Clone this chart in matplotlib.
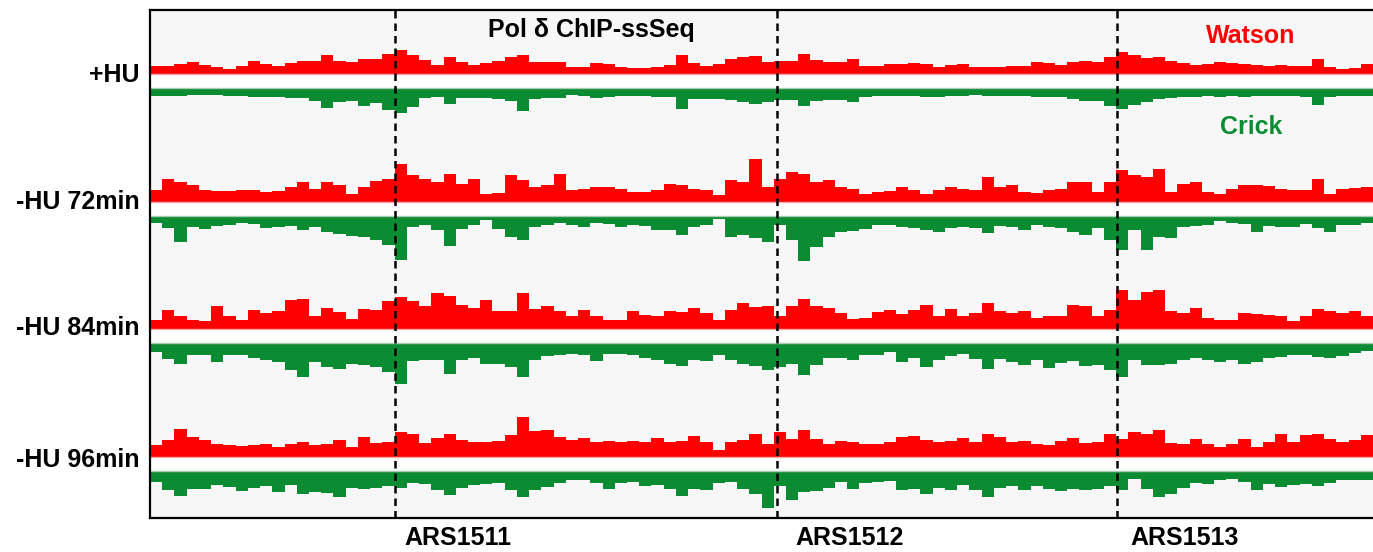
import numpy as np
import matplotlib.pyplot as plt

plt.rcParams['font.family'] = ['Liberation Sans', 'DejaVu Sans']

# track names and replication origins
tracks = ["+HU", "-HU 72min", "-HU 84min", "-HU 96min"]
ars_names = ["ARS1511", "ARS1512", "ARS1513"]
ars_pos = [20.0, 51.3, 79.1]   # in bin units

# Pol delta ChIP-ssSeq signal, 100 bins, Watson (up) and Crick (down)
hu_w = [8, 8, 10, 12, 9, 7, 5, 8, 13, 10, 8, 11, 13, 13, 19, 13, 12, 15, 15, 20,
        24, 19, 14, 9, 17, 12, 9, 11, 13, 17, 19, 12, 12, 12,
        7, 7, 11, 10, 7, 6, 6, 7, 9, 19, 11, 8, 10, 15, 17, 18, 12, 13, 13, 20,
        14, 12, 12, 15, 8, 8, 10, 10, 11, 10, 7, 9, 10,
        7, 7, 7, 8, 8, 12, 11, 9, 12, 13, 12, 17, 22, 19, 16, 17, 13, 11, 9, 10,
        12, 11, 10, 9, 8, 9, 8, 8, 15, 7, 5, 6, 10]
hu_c = [8, 8, 8, 7, 7, 7, 8, 8, 9, 9, 9, 10, 10, 13, 20, 14, 13, 18, 15, 22,
        25, 19, 10, 9, 16, 10, 10, 10, 11, 13, 23, 11, 10, 10,
        7, 8, 10, 9, 8, 8, 8, 9, 9, 21, 11, 11, 11, 12, 14, 16, 14, 12, 12, 18,
        13, 12, 12, 14, 9, 8, 8, 8, 8, 9, 9, 8, 8,
        7, 8, 8, 8, 8, 9, 9, 9, 11, 13, 13, 18, 21, 17, 14, 11, 10, 9, 9, 8,
        9, 8, 9, 8, 8, 8, 8, 9, 17, 9, 8, 8, 8]
h72_w = [12, 23, 20, 17, 12, 11, 11, 12, 12, 10, 11, 15, 20, 13, 20, 17, 8, 15, 21, 23,
         38, 27, 23, 20, 28, 18, 23, 8, 9, 27, 22, 15, 17, 28,
         12, 13, 15, 15, 13, 10, 10, 12, 18, 17, 13, 12, 7, 22, 20, 43, 15, 23, 30, 28,
         20, 22, 15, 13, 8, 10, 11, 15, 12, 8, 12, 15, 13,
         12, 25, 15, 17, 10, 9, 12, 13, 20, 20, 10, 20, 32, 27, 25, 33, 10, 18, 20, 10,
         8, 13, 17, 17, 16, 13, 12, 12, 23, 8, 13, 14, 15]
h72_c = [7, 12, 26, 11, 13, 10, 9, 7, 8, 12, 11, 10, 14, 11, 16, 18, 20, 21, 24, 29,
         44, 11, 9, 14, 30, 13, 9, 4, 13, 21, 24, 11, 9, 7,
         9, 11, 7, 8, 11, 9, 10, 14, 14, 19, 11, 9, 3, 21, 19, 22, 26, 9, 24, 45,
         31, 21, 16, 15, 13, 9, 9, 11, 12, 14, 16, 12, 11,
         12, 17, 10, 11, 14, 9, 11, 12, 16, 19, 12, 24, 34, 14, 34, 21, 22, 11, 10, 9,
         5, 7, 8, 16, 10, 11, 11, 8, 12, 16, 9, 9, 7]
h84_w = [9, 19, 13, 9, 8, 23, 13, 9, 19, 16, 18, 29, 30, 13, 21, 17, 10, 20, 19, 28,
         32, 28, 23, 36, 33, 24, 21, 29, 18, 18, 36, 20, 23, 18,
         13, 19, 13, 9, 9, 18, 14, 13, 18, 17, 21, 16, 9, 19, 26, 22, 23, 13, 23, 30,
         23, 21, 16, 10, 11, 17, 19, 15, 19, 24, 13, 20, 13,
         16, 26, 18, 16, 18, 11, 13, 13, 24, 23, 13, 19, 39, 29, 37, 39, 18, 16, 21, 11,
         9, 9, 16, 15, 14, 13, 8, 13, 20, 18, 16, 18, 13]
h84_c = [9, 16, 21, 12, 12, 19, 12, 12, 15, 17, 19, 27, 34, 19, 24, 26, 21, 22, 24, 29,
         41, 18, 17, 17, 31, 17, 15, 21, 21, 24, 34, 17, 13, 12,
         11, 12, 18, 11, 11, 12, 15, 17, 21, 23, 17, 18, 12, 17, 21, 23, 27, 24, 21, 32,
         22, 15, 15, 17, 12, 12, 9, 19, 15, 24, 17, 13, 11,
         16, 26, 16, 19, 22, 17, 25, 20, 18, 23, 22, 27, 34, 17, 22, 22, 21, 17, 15, 17,
         19, 17, 21, 19, 15, 14, 12, 12, 14, 15, 13, 10, 8]
h96_w = [12, 17, 28, 20, 17, 13, 12, 11, 12, 13, 10, 13, 15, 12, 13, 17, 10, 20, 14, 15,
         25, 23, 14, 19, 23, 17, 15, 15, 16, 22, 40, 26, 27, 20,
         17, 19, 15, 16, 15, 16, 15, 19, 15, 16, 21, 15, 7, 15, 17, 23, 13, 25, 18, 27,
         18, 13, 16, 15, 13, 13, 15, 20, 21, 17, 15, 16, 19,
         15, 23, 20, 15, 16, 13, 12, 16, 19, 14, 15, 23, 18, 25, 23, 27, 14, 13, 18, 13,
         10, 13, 18, 10, 15, 23, 15, 22, 23, 18, 15, 17, 22]
h96_c = [11, 19, 25, 18, 18, 14, 16, 20, 17, 15, 21, 14, 23, 21, 22, 26, 17, 18, 17, 15,
         17, 12, 13, 19, 24, 17, 14, 13, 12, 19, 26, 19, 16, 12,
         9, 9, 12, 18, 12, 11, 15, 14, 18, 25, 18, 19, 12, 11, 18, 23, 37, 15, 29, 21,
         20, 17, 11, 18, 12, 11, 10, 19, 18, 23, 17, 19, 14,
         19, 26, 17, 15, 19, 15, 18, 20, 18, 19, 18, 15, 19, 8, 18, 26, 23, 17, 12, 13,
         9, 8, 11, 19, 13, 16, 14, 13, 15, 12, 9, 9, 9]

watson = [hu_w, h72_w, h84_w, h96_w]
crick = [hu_c, h72_c, h84_c, h96_c]

RED = "#ff0000"
GREEN = "#0b8c32"

W, H = 1373, 552
fig = plt.figure(figsize=(W / 100, H / 100), dpi=100)
ax = fig.add_axes([150 / W, (H - 518) / H, 1223 / W, 508 / H])
ax.set_facecolor("#f7f7f7")
ax.set_xlim(0, 100)
ax.set_ylim(518, 10)   # pixel rows, top to bottom

edges = np.arange(101)
bases = [74, 202, 329, 457]   # red baseline of each track
gap = 14

for i in range(4):
    rb = bases[i]
    gt = rb + gap
    w = np.array(watson[i])
    c = np.array(crick[i])
    ax.axhspan(rb, gt, color="white", lw=0)
    ax.stairs(rb - w, edges, baseline=rb, fill=True, color=RED, lw=0)
    ax.stairs(gt + c, edges, baseline=gt, fill=True, color=GREEN, lw=0)
    ax.axhline(rb, color="#f3a9a9", lw=1)
    ax.axhline(gt, color="#a8cdb3", lw=1)

for x in ars_pos:
    ax.axvline(x, color="black", lw=1.8, ls=(0, (3, 2)), zorder=5)

ax.set_xticks([])
ax.set_yticks([])
ax.spines["right"].set_visible(False)
for s in ["left", "top", "bottom"]:
    ax.spines[s].set_linewidth(1.6)

# labels
label_y = [75, 202, 328, 460]
for name, y in zip(tracks, label_y):
    fig.text(140 / W, 1 - y / H, name, ha="right", va="center",
             fontsize=18, fontweight="bold")

ars_x = [458, 850, 1185]
for name, x in zip(ars_names, ars_x):
    fig.text(x / W, 1 - 538 / H, name, ha="center", va="center",
             fontsize=18, fontweight="bold")

fig.text(591 / W, 1 - 30 / H, "Pol δ ChIP-ssSeq", ha="center", va="center",
         fontsize=18, fontweight="bold")
fig.text(1251 / W, 1 - 36 / H, "Watson", ha="center", va="center",
         fontsize=18, fontweight="bold", color=RED)
fig.text(1251 / W, 1 - 127 / H, "Crick", ha="center", va="center",
         fontsize=18, fontweight="bold", color=GREEN)

fig.savefig("out.png", dpi=100)
